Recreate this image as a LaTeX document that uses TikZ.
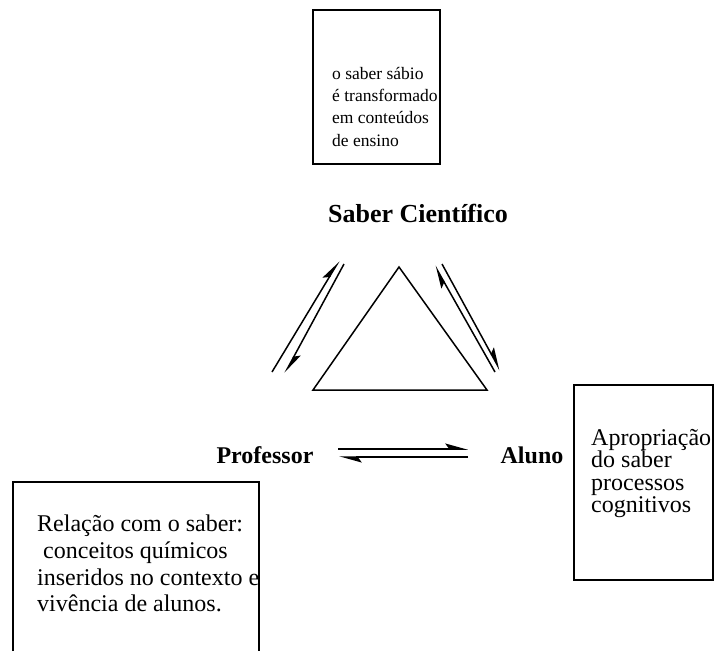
\documentclass[tikz,border=0pt]{standalone}
\usepackage{fontspec}
\setmainfont{Liberation Serif}
\usetikzlibrary{arrows.meta}

\tikzset{
  half arrow/.style = {line width = 1.5pt, -{Stealth[harpoon, length = 20pt, width = 11pt, inset = 4pt]}},
  box line/.style = {line width = 1.5pt},
  box text/.style = {anchor = north west, inner sep = 0pt, align = left},
  vertex label/.style = {font = \fontsize{24}{24}\selectfont\bfseries, inner sep = 0pt}
}

\begin{document}
\begin{tikzpicture}[x = 1pt, y = -1pt]
    \useasboundingbox (0, 0) rectangle (715, 651);

    \coordinate (T1) at (399, 267);
    \coordinate (T2) at (313, 390);
    \coordinate (T3) at (487, 390);

    \draw [line width = 1.5pt, line join = miter] (T1) -- (T2) -- (T3) -- cycle;

    \node [vertex label, font = \fontsize{26}{26}\selectfont\bfseries] (saber) at (418, 213) {Saber Científico};
    \node [vertex label] (professor) at (265, 455) {Professor};
    \node [vertex label] (aluno) at (532, 455) {Aluno};

    \coordinate (L1) at (272, 372);
    \coordinate (L2) at (339, 261);
    \coordinate (L3) at (344, 264);
    \coordinate (L4) at (285, 373);
    \coordinate (R1) at (495, 372);
    \coordinate (R2) at (435, 266);
    \coordinate (R3) at (442, 264);
    \coordinate (R4) at (500, 370);
    \coordinate (H1) at (338, 449);
    \coordinate (H2) at (468, 449);
    \coordinate (H3) at (468, 457);
    \coordinate (H4) at (339, 457);

    \draw [half arrow] (L1) -- (L2);
    \draw [half arrow] (L3) -- (L4);
    \draw [half arrow] (R1) -- (R2);
    \draw [half arrow] (R3) -- (R4);
    \draw [half arrow] (H1) -- (H2);
    \draw [half arrow] (H3) -- (H4);

    \coordinate (B1) at (313, 10);
    \coordinate (B2) at (440, 164);
    \draw [box line] (B1) rectangle (B2);
    \node [box text, font = \fontsize{17.5}{22.3}\selectfont] (transposicao) at (332, 67)
      {o saber sábio\\é transformado\\em conteúdos\\de ensino};

    \coordinate (B3) at (574, 385);
    \coordinate (B4) at (713, 580);
    \draw [box line] (B3) rectangle (B4);
    \node [box text, font = \fontsize{24}{22.5}\selectfont] (apropriacao) at (591, 429)
      {Apropriação\\do saber\\processos\\cognitivos};

    \coordinate (B5) at (13, 651);
    \coordinate (B6) at (13, 482);
    \coordinate (B7) at (259, 482);
    \coordinate (B8) at (259, 651);
    \draw [box line] (B5) -- (B6) -- (B7) -- (B8);
    \node [box text, font = \fontsize{24}{26.7}\selectfont] (relacao) at (37, 515)
      {Relação com o saber:\\\ conceitos químicos\\inseridos no contexto e\\vivência de alunos.};
\end{tikzpicture}
\end{document}
